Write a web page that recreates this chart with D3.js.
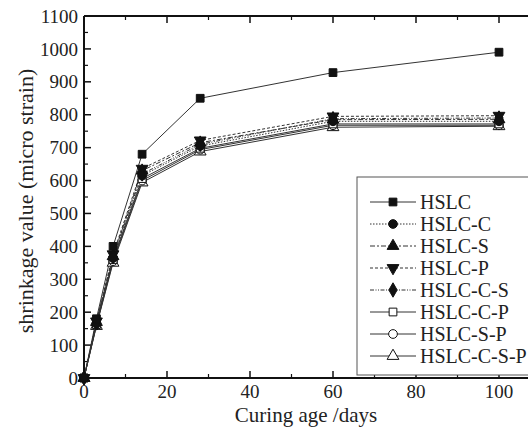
<!DOCTYPE html>
<html lang="en">
<head>
<meta charset="UTF-8">
<title>Shrinkage</title>
<style>
  body { margin: 0; background: #fff; }
  svg text { font-family: "Times New Roman", "Liberation Serif", "DejaVu Serif", serif; fill: #222; }
</style>
</head>
<body>
<svg width="528" height="427"></svg>
<script src="https://cdn.jsdelivr.net/npm/d3@7"></script>
<script>
// curing ages (days)
var days = [0, 3, 7, 14, 28, 60, 100];

// shrinkage values (micro strain) per mix
var seriesNames = ["HSLC", "HSLC-C", "HSLC-S", "HSLC-P", "HSLC-C-S", "HSLC-C-P", "HSLC-S-P", "HSLC-C-S-P"];
var hslc      = [0, 180, 400, 680, 850, 928, 990];
var hslcC     = [0, 165, 365, 615, 705, 780, 780];
var hslcS     = [0, 170, 370, 630, 715, 785, 786];
var hslcP     = [0, 172, 376, 636, 722, 795, 797];
var hslcCS    = [0, 168, 368, 620, 710, 788, 790];
var hslcCP    = [0, 162, 360, 606, 698, 772, 772];
var hslcSP    = [0, 160, 355, 600, 694, 768, 768];
var hslcCSP   = [0, 158, 350, 594, 688, 762, 765];

var xTicks = [0, 20, 40, 60, 80, 100];
var yTicks = [0, 100, 200, 300, 400, 500, 600, 700, 800, 900, 1000, 1100];

var allValues = [hslc, hslcC, hslcS, hslcP, hslcCS, hslcCP, hslcSP, hslcCSP];

// style per series: dash pattern, marker symbol, filled
var styles = [
  {dash: null,          sym: d3.symbolSquare,   fill: true,  rot: 0},
  {dash: "1.5,1.5",     sym: d3.symbolCircle,   fill: true,  rot: 0},
  {dash: "5,2,2,2",     sym: d3.symbolTriangle, fill: true,  rot: 0},
  {dash: "3,2",         sym: d3.symbolTriangle, fill: true,  rot: 180},
  {dash: "4,1.5,1,1.5,1,1.5", sym: d3.symbolDiamond, fill: true, rot: 0},
  {dash: null,          sym: d3.symbolSquare,   fill: false, rot: 0},
  {dash: null,          sym: d3.symbolCircle,   fill: false, rot: 0},
  {dash: null,          sym: d3.symbolTriangle, fill: false, rot: 0}
];

var FONT = "'Times New Roman', 'Liberation Serif', 'DejaVu Serif', serif";

var svg = d3.select("svg");
var mLeft = 84, mTop = 16, mBottom = 378, mRight = 540;

var x = d3.scaleLinear().domain([0, 110]).range([mLeft, mLeft + 110 * 4.15]);
var y = d3.scaleLinear().domain([0, 1100]).range([mBottom, mTop]);

var g = svg.append("g");

function minorTicks(start, stop, step) {
  var t = [];
  for (var v = start; v <= stop + 1e-9; v += step) t.push(v);
  return t;
}

// bottom axis, ticks inward
var bx = g.append("g").attr("transform", "translate(0," + mBottom + ")");
bx.selectAll(".maj").data(xTicks).enter().append("line")
  .attr("x1", d => x(d)).attr("x2", d => x(d)).attr("y1", 0).attr("y2", -7)
  .attr("stroke", "#111").attr("stroke-width", 1.5);
bx.selectAll(".min").data(minorTicks(10, 110, 20)).enter().append("line")
  .attr("x1", d => x(d)).attr("x2", d => x(d)).attr("y1", 0).attr("y2", -4)
  .attr("stroke", "#111").attr("stroke-width", 1.2);
bx.selectAll("text").data(xTicks).enter().append("text")
  .attr("x", d => x(d)).attr("y", 20).attr("text-anchor", "middle")
  .attr("font-family", FONT).attr("font-size", 19).text(d => d);

// top axis
var tx = g.append("g").attr("transform", "translate(0," + mTop + ")");
tx.selectAll(".maj").data(xTicks).enter().append("line")
  .attr("x1", d => x(d)).attr("x2", d => x(d)).attr("y1", 0).attr("y2", 7)
  .attr("stroke", "#111").attr("stroke-width", 1.5);
tx.selectAll(".min").data(minorTicks(10, 110, 20)).enter().append("line")
  .attr("x1", d => x(d)).attr("x2", d => x(d)).attr("y1", 0).attr("y2", 4)
  .attr("stroke", "#111").attr("stroke-width", 1.2);

// left axis
var ly = g.append("g").attr("transform", "translate(" + mLeft + ",0)");
ly.selectAll(".maj").data(yTicks).enter().append("line")
  .attr("y1", d => y(d)).attr("y2", d => y(d)).attr("x1", 0).attr("x2", 7)
  .attr("stroke", "#111").attr("stroke-width", 1.5);
ly.selectAll(".min").data(minorTicks(50, 1050, 100)).enter().append("line")
  .attr("y1", d => y(d)).attr("y2", d => y(d)).attr("x1", 0).attr("x2", 4)
  .attr("stroke", "#111").attr("stroke-width", 1.2);
ly.selectAll("text").data(yTicks).enter().append("text")
  .attr("x", -6).attr("y", d => y(d)).attr("dy", "0.35em").attr("text-anchor", "end")
  .attr("font-family", FONT).attr("font-size", 19).text(d => d);

// frame lines
g.append("line").attr("x1", mLeft).attr("x2", mLeft).attr("y1", mTop).attr("y2", mBottom)
  .attr("stroke", "#111").attr("stroke-width", 2);
g.append("line").attr("x1", mLeft).attr("x2", mRight).attr("y1", mBottom).attr("y2", mBottom)
  .attr("stroke", "#111").attr("stroke-width", 2);
g.append("line").attr("x1", mLeft).attr("x2", mRight).attr("y1", mTop).attr("y2", mTop)
  .attr("stroke", "#111").attr("stroke-width", 2);

// axis titles
svg.append("text").attr("x", 306).attr("y", 422).attr("text-anchor", "middle")
  .attr("font-family", FONT).attr("font-size", 21).text("Curing age /days");
svg.append("text").attr("transform", "translate(33,201) rotate(-90)")
  .attr("text-anchor", "middle").attr("font-family", FONT).attr("font-size", 22)
  .text("shrinkage value (micro strain)");

// lines
var line = d3.line().x((d, i) => x(days[i])).y(d => y(d));
var plot = svg.append("g");
allValues.forEach(function(vals, k) {
  var st = styles[k];
  plot.append("path").datum(vals).attr("d", line)
    .attr("fill", "none").attr("stroke", "#333").attr("stroke-width", 1)
    .attr("stroke-dasharray", st.dash);
});

function drawMarker(sel, st, cx, cy, size) {
  sel.append("path")
    .attr("d", d3.symbol().type(st.sym).size(size))
    .attr("transform", "translate(" + cx + "," + cy + ") rotate(" + st.rot + ")")
    .attr("fill", st.fill ? "#111" : "#fff")
    .attr("stroke", "#111").attr("stroke-width", 1);
}

// markers (open ones first, filled on top)
var order = [7, 6, 5, 4, 3, 2, 1, 0];
order.forEach(function(k) {
  allValues[k].forEach(function(v, i) {
    drawMarker(plot, styles[k], x(days[i]), y(v), 60);
  });
});

// legend
var lg = svg.append("g");
lg.append("rect").attr("x", 357).attr("y", 177).attr("width", 200).attr("height", 198)
  .attr("fill", "#fff").attr("stroke", "#555").attr("stroke-width", 1);
seriesNames.forEach(function(name, k) {
  var yy = 202 + k * 22;
  var st = styles[k];
  lg.append("line").attr("x1", 370).attr("x2", 416).attr("y1", yy).attr("y2", yy)
    .attr("stroke", "#333").attr("stroke-width", 1).attr("stroke-dasharray", st.dash);
  drawMarker(lg, st, 393, yy, 60);
  lg.append("text").attr("x", 420).attr("y", yy).attr("dy", "0.35em")
    .attr("font-family", FONT).attr("font-size", 20).text(name);
});
</script>
</body>
</html>
